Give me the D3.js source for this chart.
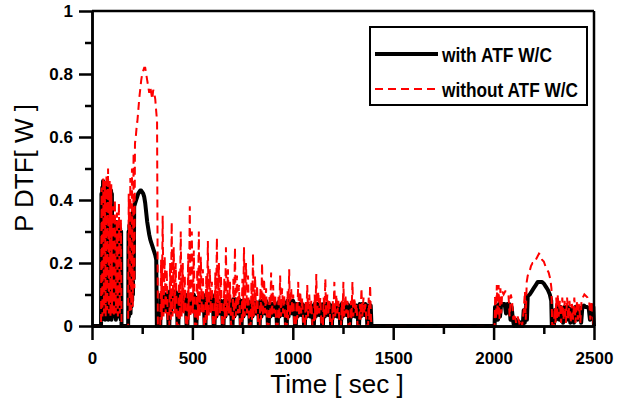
<!DOCTYPE html>
<html>
<head>
<meta charset="utf-8">
<script src="https://cdn.jsdelivr.net/npm/d3@7"></script>
<style>
  body { margin: 0; background: #fff; }
  svg { display: block; font-family: "Liberation Sans", Arial, sans-serif; }
</style>
</head>
<body>
<svg id="chart" width="626" height="400"></svg>
<script>
// axis ticks
const timeTicks = [0, 500, 1000, 1500, 2000, 2500];
const timeMinorTicks = [250, 750, 1250, 1750, 2250];
const powerTicks = [0, 0.2, 0.4, 0.6, 0.8, 1];
const powerTickLabels = ["0", "0.2", "0.4", "0.6", "0.8", "1"];
const powerMinorTicks = [0.1, 0.3, 0.5, 0.7, 0.9];
const seriesNames = ["with ATF W/C", "without ATF W/C"];

// [time sec, power W]
const withAtf = [
  [0,0],[45,0],[47,0.42],[49,0.02],[51,0.44],[53,0.05],[55,0.46],[57,0.03],[59,0.45],[61,0.08],
  [63,0.45],[65,0.02],[67,0.45],[69,0.10],[71,0.44],[73,0.03],[75,0.44],[77,0.06],[79,0.44],[81,0.02],
  [83,0.44],[85,0.08],[87,0.43],[89,0.03],[91,0.43],[93,0.05],[95,0.43],[97,0.02],[99,0.42],[101,0.25],
  [104,0.32],[107,0.03],[110,0.33],[113,0.06],[116,0.32],[119,0.02],[122,0.33],[125,0.08],[128,0.32],[131,0.03],
  [134,0.32],[137,0.05],[140,0.31],[143,0.02],[145,0.30],[147,0],[180,0],[182,0.30],[184,0.03],[186,0.32],
  [188,0.05],[190,0.33],[192,0.04],[194,0.34],[196,0.06],[198,0.35],[200,0.08],[202,0.36],[204,0.10],[206,0.37],
  [208,0.15],[210,0.38],[215,0.39],[220,0.40],[225,0.41],[230,0.42],[235,0.425],[240,0.43],[245,0.43],[250,0.425],
  [255,0.42],[260,0.41],[265,0.39],[270,0.36],[275,0.33],[280,0.31],[285,0.29],[290,0.275],[295,0.265],[300,0.255],
  [305,0.245],[310,0.235],[315,0.225],[320,0.21],[323,0],
  [340,0],[343,0.10],[349,0.04],[354,0.11],[360,0.10],[366,0.05],[371,0.10],[377,0.09],[381,0],
  [385,0],[388,0.11],[394,0.04],[399,0.11],[405,0.10],[411,0.06],[416,0.11],[422,0.10],[426,0],
  [430,0],[433,0.10],[439,0.04],[444,0.10],[450,0.09],[456,0.05],[461,0.10],[467,0.09],[471,0],
  [475,0],[478,0.10],[484,0.04],[489,0.10],[495,0.10],[501,0.05],[506,0.10],[512,0.09],[516,0],
  [520,0],[523,0.09],[529,0.04],[534,0.09],[540,0.09],[546,0.05],[551,0.09],[557,0.08],[561,0],
  [565,0],[568,0.10],[574,0.04],[579,0.10],[585,0.09],[591,0.05],[596,0.10],[602,0.09],[606,0],
  [610,0],[613,0.08],[619,0.03],[624,0.08],[630,0.08],[636,0.04],[641,0.08],[647,0.07],[651,0],
  [655,0],[658,0.08],[664,0.03],[669,0.08],[675,0.08],[681,0.04],[686,0.08],[692,0.07],[696,0],
  [700,0],[703,0.085],[709,0.03],[714,0.085],[720,0.08],[726,0.04],[731,0.085],[737,0.08],[741,0],
  [745,0],[748,0.08],[754,0.03],[759,0.08],[765,0.08],[771,0.04],[776,0.08],[782,0.07],[786,0],
  [790,0],[793,0.075],[799,0.03],[804,0.075],[810,0.07],[816,0.04],[821,0.075],[827,0.07],[831,0],
  [835,0],[838,0.08],[844,0.03],[849,0.08],[855,0.08],[861,0.04],[866,0.08],[872,0.07],[876,0],
  [880,0],[883,0.07],[889,0.03],[894,0.07],[900,0.07],[906,0.035],[911,0.07],[917,0.065],[921,0],
  [925,0],[928,0.075],[934,0.03],[939,0.075],[945,0.07],[951,0.035],[956,0.075],[962,0.07],[966,0],
  [970,0],[973,0.08],[979,0.03],[984,0.08],[990,0.08],[996,0.04],[1001,0.08],[1007,0.07],[1011,0],
  [1015,0],[1018,0.07],[1024,0.03],[1029,0.07],[1035,0.07],[1041,0.035],[1046,0.07],[1052,0.065],[1056,0],
  [1060,0],[1063,0.065],[1069,0.03],[1074,0.065],[1080,0.06],[1086,0.03],[1091,0.065],[1097,0.06],[1101,0],
  [1105,0],[1108,0.07],[1114,0.03],[1119,0.07],[1125,0.07],[1131,0.035],[1136,0.07],[1142,0.065],[1146,0],
  [1150,0],[1153,0.07],[1159,0.03],[1164,0.07],[1170,0.07],[1176,0.035],[1181,0.07],[1187,0.065],[1191,0],
  [1195,0],[1198,0.065],[1204,0.03],[1209,0.065],[1215,0.06],[1221,0.03],[1226,0.065],[1232,0.06],[1236,0],
  [1240,0],[1243,0.07],[1249,0.03],[1254,0.07],[1260,0.07],[1266,0.035],[1271,0.07],[1277,0.065],[1281,0],
  [1285,0],[1288,0.065],[1294,0.03],[1299,0.065],[1305,0.06],[1311,0.03],[1316,0.065],[1322,0.06],[1326,0],
  [1330,0],[1333,0.07],[1339,0.03],[1344,0.07],[1350,0.07],[1356,0.035],[1361,0.07],[1367,0.065],[1371,0],
  [1375,0],[1378,0.065],[1383,0.03],[1388,0.065],[1392,0],
  [2000,0],[2005,0],[2007,0.06],[2012,0.03],[2017,0.065],[2022,0.02],[2027,0.07],[2032,0.03],[2037,0.065],[2043,0.07],
  [2055,0.07],[2062,0.04],[2068,0.07],[2078,0.07],[2084,0.02],[2090,0.06],[2096,0.02],[2102,0],[2110,0.02],[2118,0],
  [2126,0.015],[2134,0],[2145,0],[2150,0.05],[2155,0.01],[2162,0.07],[2166,0.02],[2170,0.095],[2180,0.10],[2190,0.11],
  [2200,0.12],[2210,0.13],[2220,0.14],[2230,0.14],[2240,0.14],[2250,0.135],[2260,0.125],[2270,0.115],[2280,0.10],[2287,0.08],
  [2290,0],[2300,0],[2304,0.05],[2310,0.02],[2316,0.06],[2322,0.06],[2328,0.02],[2334,0.06],[2340,0.055],[2346,0.01],
  [2352,0.06],[2358,0.06],[2364,0.02],[2370,0.06],[2376,0.05],[2382,0.01],[2388,0.055],[2394,0.05],[2400,0.01],[2406,0.06],
  [2412,0.06],[2418,0.02],[2424,0.06],[2430,0.055],[2436,0.01],[2442,0.06],[2450,0.065],[2458,0.06],[2466,0.06],[2474,0.055],
  [2480,0.02],[2486,0.06],[2492,0.065],[2497,0.06],[2500,0]
];

const withoutAtf = [
  [0,0],[45,0],[48,0.44],[52,0.03],[56,0.47],[60,0.04],[64,0.46],[68,0.03],[72,0.48],[76,0.05],
  [80,0.50],[84,0.04],[88,0.46],[92,0.03],[96,0.45],[100,0.04],
  [104,0.38],[109,0.03],[114,0.40],[119,0.04],[124,0.36],[129,0.03],[134,0.39],[139,0.04],[144,0.34],[147,0],
  [180,0],[183,0.42],[187,0.04],[191,0.47],[195,0.05],[199,0.50],[203,0.06],[207,0.55],[211,0.12],[214,0.58],
  [218,0.60],[222,0.63],[226,0.65],[230,0.68],[235,0.72],[240,0.75],
  [245,0.78],[250,0.80],[255,0.81],[260,0.82],[265,0.82],[270,0.80],[275,0.78],[280,0.76],[285,0.74],[290,0.76],
  [295,0.74],[300,0.72],[305,0.75],[310,0.74],[315,0.72],[320,0.68],[324,0.65],[328,0],
  [340,0],[344,0.21],[347,0.02],[352,0.35],[356,0.03],[362,0.22],[367,0.04],[372,0.18],[378,0],
  [385,0],[389,0.20],[392,0.02],[397,0.33],[401,0.03],[407,0.25],[412,0.04],[417,0.20],[423,0],
  [430,0],[434,0.18],[437,0.02],[442,0.30],[446,0.03],[452,0.20],[457,0.04],[462,0.16],[468,0],
  [475,0],[479,0.23],[482,0.02],[487,0.38],[491,0.03],[497,0.30],[502,0.04],[507,0.24],[513,0],
  [520,0],[524,0.18],[527,0.02],[532,0.30],[536,0.03],[542,0.22],[547,0.04],[552,0.18],[558,0],
  [565,0],[569,0.16],[572,0.02],[577,0.27],[581,0.03],[587,0.18],[592,0.04],[597,0.14],[603,0],
  [610,0],[614,0.17],[617,0.02],[622,0.28],[626,0.03],[632,0.20],[637,0.04],[642,0.16],[648,0],
  [655,0],[659,0.15],[662,0.02],[667,0.25],[671,0.03],[677,0.18],[682,0.04],[687,0.14],[693,0],
  [700,0],[704,0.15],[707,0.02],[712,0.25],[716,0.03],[722,0.16],[727,0.04],[732,0.13],[738,0],
  [745,0],[749,0.15],[752,0.02],[757,0.25],[761,0.03],[767,0.20],[772,0.04],[777,0.16],[783,0],
  [790,0],[794,0.14],[797,0.02],[802,0.23],[806,0.03],[812,0.16],[817,0.04],[822,0.13],[828,0],
  [835,0],[839,0.12],[842,0.02],[847,0.20],[851,0.03],[857,0.15],[862,0.04],[867,0.12],[873,0],
  [880,0],[884,0.10],[887,0.02],[892,0.17],[896,0.03],[902,0.13],[907,0.04],[912,0.10],[918,0],
  [925,0],[929,0.10],[932,0.02],[937,0.16],[941,0.03],[947,0.12],[952,0.04],[957,0.10],[963,0],
  [970,0],[974,0.11],[977,0.02],[982,0.18],[986,0.03],[992,0.12],[997,0.04],[1002,0.10],[1008,0],
  [1015,0],[1019,0.08],[1022,0.02],[1027,0.14],[1031,0.03],[1037,0.11],[1042,0.04],[1047,0.09],[1053,0],
  [1060,0],[1064,0.08],[1067,0.02],[1072,0.13],[1076,0.03],[1082,0.10],[1087,0.04],[1092,0.08],[1098,0],
  [1105,0],[1109,0.10],[1112,0.02],[1117,0.165],[1121,0.03],[1127,0.11],[1132,0.04],[1137,0.09],[1143,0],
  [1150,0],[1154,0.09],[1157,0.02],[1162,0.15],[1166,0.03],[1172,0.10],[1177,0.04],[1182,0.08],[1188,0],
  [1195,0],[1199,0.08],[1202,0.02],[1207,0.14],[1211,0.03],[1217,0.10],[1222,0.04],[1227,0.08],[1233,0],
  [1240,0],[1244,0.08],[1247,0.02],[1252,0.14],[1256,0.03],[1262,0.10],[1267,0.04],[1272,0.08],[1278,0],
  [1285,0],[1289,0.08],[1292,0.02],[1297,0.14],[1301,0.03],[1307,0.09],[1312,0.04],[1317,0.07],[1323,0],
  [1330,0],[1334,0.07],[1337,0.02],[1342,0.12],[1346,0.03],[1352,0.09],[1357,0.04],[1362,0.07],[1368,0],
  [1375,0],[1378,0.09],[1381,0.02],[1385,0.13],[1389,0.03],[1392,0],
  [2000,0],[2005,0],[2008,0.10],[2012,0.02],[2016,0.13],[2020,0.03],[2025,0.13],[2029,0.02],[2034,0.12],[2038,0.04],
  [2043,0.11],[2050,0.10],[2058,0.11],[2066,0.11],[2074,0.10],[2080,0.03],[2086,0.10],[2092,0.08],[2098,0.02],[2105,0.04],
  [2112,0.01],[2120,0.03],[2128,0.01],[2136,0.02],[2142,0],[2150,0.05],[2156,0.11],[2160,0.02],[2165,0.14],[2170,0.16],
  [2178,0.17],[2186,0.19],[2194,0.20],[2202,0.20],[2210,0.21],[2218,0.22],[2226,0.23],[2234,0.225],[2242,0.21],[2250,0.205],
  [2258,0.19],[2266,0.18],[2274,0.17],[2282,0.15],[2288,0.12],[2292,0],[2300,0],[2304,0.06],[2308,0.01],[2312,0.09],
  [2316,0.02],[2320,0.10],[2324,0.03],[2330,0.08],[2336,0.01],[2342,0.09],[2348,0.02],[2354,0.08],[2360,0.01],[2366,0.09],
  [2372,0.02],[2378,0.08],[2384,0.01],[2390,0.07],[2396,0.02],[2402,0.09],[2408,0.01],[2414,0.08],[2420,0.02],[2426,0.07],
  [2432,0.01],[2438,0.08],[2444,0.09],[2452,0.10],[2460,0.095],[2468,0.09],[2476,0.08],[2482,0.02],[2488,0.08],[2494,0.03],
  [2498,0]
];

const svg = d3.select("#chart");
const plot = { left: 92, right: 594, top: 11, bottom: 326 };

const x = d3.scaleLinear().domain([0, 2500]).range([plot.left, plot.right]);
const y = d3.scaleLinear().domain([0, 1]).range([plot.bottom, plot.top]);

const line = d3.line().x(d => x(d[0])).y(d => y(d[1]));

// data lines
svg.append("path")
  .datum(withAtf)
  .attr("d", line)
  .attr("fill", "none")
  .attr("stroke", "#000")
  .attr("stroke-width", 4)
  .attr("stroke-linejoin", "round");

svg.append("path")
  .datum(withoutAtf)
  .attr("d", line)
  .attr("fill", "none")
  .attr("stroke", "#ff0000")
  .attr("stroke-width", 2)
  .attr("stroke-dasharray", "8,5");

// frame top + right
svg.append("line")
  .attr("x1", plot.left).attr("x2", plot.right)
  .attr("y1", plot.top).attr("y2", plot.top)
  .attr("stroke", "#000").attr("stroke-width", 2.5);
svg.append("line")
  .attr("x1", plot.right).attr("x2", plot.right)
  .attr("y1", plot.top).attr("y2", plot.bottom)
  .attr("stroke", "#000").attr("stroke-width", 2.5);

// axes
function styleAxis(g) {
  g.select(".domain").attr("stroke-width", 2.5);
  g.selectAll(".tick line").attr("stroke-width", 2.5);
  g.selectAll(".tick text")
    .attr("fill", "#000")
    .style("font-size", "17px")
    .style("font-weight", "bold");
}

svg.append("g")
  .attr("transform", `translate(0,${plot.bottom})`)
  .call(d3.axisBottom(x).tickValues(timeMinorTicks).tickSize(8).tickSizeOuter(0).tickFormat(""))
  .call(styleAxis);
svg.append("g")
  .attr("transform", `translate(0,${plot.bottom})`)
  .call(d3.axisBottom(x).tickValues(timeTicks).tickSize(14).tickSizeOuter(0).tickPadding(12).tickFormat(d3.format("d")))
  .call(styleAxis);

svg.append("g")
  .attr("transform", `translate(${plot.left},0)`)
  .call(d3.axisLeft(y).tickValues(powerMinorTicks).tickSize(7).tickSizeOuter(0).tickFormat(""))
  .call(styleAxis);
svg.append("g")
  .attr("transform", `translate(${plot.left},0)`)
  .call(d3.axisLeft(y).tickValues(powerTicks).tickSize(13).tickSizeOuter(0).tickPadding(6)
    .tickFormat((d, i) => powerTickLabels[i]))
  .call(styleAxis);

// axis titles
svg.append("text")
  .attr("x", 337)
  .attr("y", 393)
  .attr("text-anchor", "middle")
  .style("font-size", "26px")
  .text("Time [ sec ]");

svg.append("text")
  .attr("transform", "translate(33,168) rotate(-90)")
  .attr("text-anchor", "middle")
  .style("font-size", "26px")
  .text("P DTF[ W ]");

// legend
const legend = svg.append("g");
legend.append("rect")
  .attr("x", 370).attr("y", 27)
  .attr("width", 217).attr("height", 78)
  .attr("fill", "#fff")
  .attr("stroke", "#000")
  .attr("stroke-width", 2);

const legendRows = [
  { name: seriesNames[0], y: 54, stroke: "#000", width: 4, dash: null, len: 110 },
  { name: seriesNames[1], y: 89, stroke: "#ff0000", width: 2, dash: "8,5", len: 136 }
];
legendRows.forEach(r => {
  legend.append("line")
    .attr("x1", 375).attr("x2", 438)
    .attr("y1", r.y).attr("y2", r.y)
    .attr("stroke", r.stroke)
    .attr("stroke-width", r.width)
    .attr("stroke-dasharray", r.dash);
  legend.append("text")
    .attr("x", 442)
    .attr("y", r.y + 8)
    .attr("textLength", r.len)
    .attr("lengthAdjust", "spacingAndGlyphs")
    .style("font-family", "'Liberation Sans Narrow', 'Arial Narrow', 'Liberation Sans', sans-serif")
    .style("font-size", "21px")
    .style("font-weight", "bold")
    .text(r.name);
});
</script>
</body>
</html>
